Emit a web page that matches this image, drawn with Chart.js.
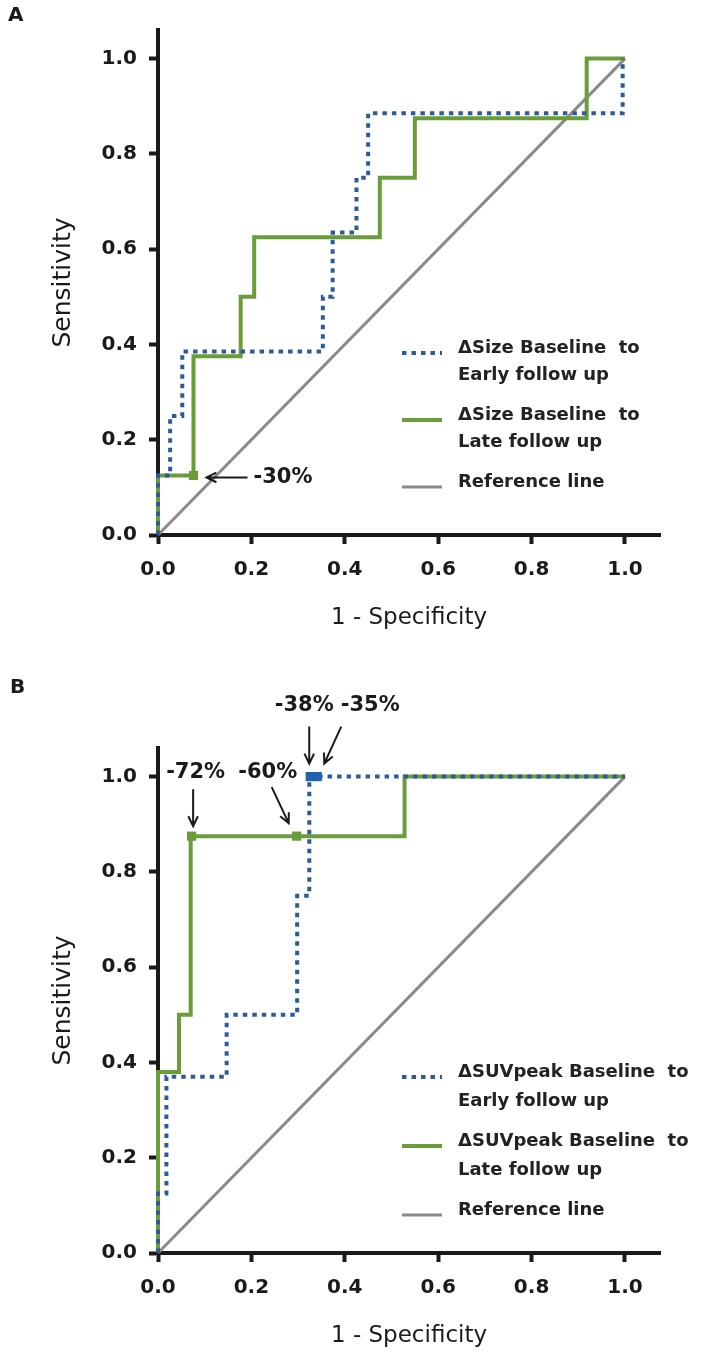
<!DOCTYPE html>
<html lang="en">
<head>
<meta charset="utf-8"/>
<title>ROC curves - size and SUVpeak</title>
<script src="https://cdn.jsdelivr.net/npm/chart.js"></script>
<style>
  body { margin: 0; background: #fff; width: 701px; height: 1353px; position: relative; overflow: hidden; font-family: 'DejaVu Sans', sans-serif; }
  .letter { position: absolute; font-weight: bold; font-size: 20px; color: #1a1a1a; z-index: 2; }
  canvas { position: absolute; left: 0; }
</style>
</head>
<body>
<div class="letter" style="left:8px;top:2px">A</div>
<canvas id="chartA" width="701" height="640" style="top:0"></canvas>
<div class="letter" style="left:10px;top:674px">B</div>
<canvas id="chartB" width="701" height="713" style="top:640px"></canvas>

<script>
// ---- data ----
// Panel A: change in size
const sizeEarlyX = [0, 0, 0.026, 0.026, 0.052, 0.052, 0.353, 0.353, 0.374, 0.374, 0.425, 0.425, 0.45, 0.45, 0.995, 0.995];
const sizeEarlyY = [0, 0.125, 0.125, 0.25, 0.25, 0.385, 0.385, 0.5, 0.5, 0.635, 0.635, 0.75, 0.75, 0.885, 0.885, 1.0];
const sizeLateX = [0, 0, 0.076, 0.076, 0.177, 0.177, 0.206, 0.206, 0.475, 0.475, 0.55, 0.55, 0.918, 0.918, 1.0];
const sizeLateY = [0, 0.125, 0.125, 0.375, 0.375, 0.5, 0.5, 0.625, 0.625, 0.75, 0.75, 0.875, 0.875, 1.0, 1.0];
const sizeCutX = [0.076];
const sizeCutY = [0.125];
const sizeCutText = ['-30%'];

// Panel B: change in SUVpeak
const suvEarlyX = [0, 0, 0.018, 0.018, 0.147, 0.147, 0.298, 0.298, 0.324, 0.324, 1.0];
const suvEarlyY = [0, 0.125, 0.125, 0.37, 0.37, 0.5, 0.5, 0.75, 0.75, 1.0, 1.0];
const suvLateX = [0, 0, 0.045, 0.045, 0.07, 0.07, 0.528, 0.528, 1.0];
const suvLateY = [0, 0.38, 0.38, 0.5, 0.5, 0.875, 0.875, 1.0, 1.0];
const suvLateCutX = [0.072, 0.297];
const suvLateCutY = [0.875, 0.875];
const suvLateCutText = ['-72%', '-60%'];
const suvEarlyCutX = [0.326, 0.341];
const suvEarlyCutY = [1.0, 1.0];
const suvEarlyCutText = ['-38%', '-35%'];

const refX = [0, 1];
const refY = [0, 1];

const axisTicks = [0, 0.2, 0.4, 0.6, 0.8, 1.0];

const legendA = [['\u0394Size Baseline  to', 'Early follow up'], ['\u0394Size Baseline  to', 'Late follow up'], ['Reference line']];
const legendB = [['\u0394SUVpeak Baseline  to', 'Early follow up'], ['\u0394SUVpeak Baseline  to', 'Late follow up'], ['Reference line']];

// ---- styling ----
const GREEN = '#6a9c3a';
const BLUE = '#2d5b98';
const MARK_BLUE = '#1f62ad';
const GREY = '#8a8a8a';
const INK = '#1a1a1a';
const FONT = "'DejaVu Sans', sans-serif";

function pts(xs, ys) { return xs.map((x, i) => ({x: x, y: ys[i]})); }

function drawArrow(ctx, x1, y1, x2, y2) {
  const ang = Math.atan2(y2 - y1, x2 - x1);
  const head = 11, spread = 0.45;
  ctx.beginPath();
  ctx.moveTo(x1, y1);
  ctx.lineTo(x2, y2);
  ctx.moveTo(x2 - head * Math.cos(ang - spread), y2 - head * Math.sin(ang - spread));
  ctx.lineTo(x2, y2);
  ctx.lineTo(x2 - head * Math.cos(ang + spread), y2 - head * Math.sin(ang + spread));
  ctx.stroke();
}

const overlay = {
  id: 'rocOverlay',
  afterDraw(chart, args, opts) {
    const ctx = chart.ctx;
    const sx = chart.scales.x, sy = chart.scales.y;
    ctx.save();
    // cut-off annotations with arrows
    ctx.strokeStyle = INK;
    ctx.fillStyle = INK;
    ctx.lineWidth = 2;
    ctx.setLineDash([]);
    (opts.notes || []).forEach(n => {
      const px = sx.getPixelForValue(n.x), py = sy.getPixelForValue(n.y);
      drawArrow(ctx, px + n.from[0], py + n.from[1], px + n.to[0], py + n.to[1]);
      ctx.font = 'bold 21px ' + FONT;
      ctx.textAlign = n.align;
      ctx.textBaseline = 'middle';
      ctx.fillText(n.text, px + n.label[0], py + n.label[1]);
    });
    // legend
    const lg = opts.legend;
    let y = lg.top;
    lg.items.forEach((lines, i) => {
      const ds = chart.data.datasets[lg.datasets[i]];
      ctx.strokeStyle = ds.borderColor;
      ctx.lineWidth = ds.borderWidth;
      ctx.setLineDash(ds.borderDash || []);
      ctx.beginPath();
      ctx.moveTo(lg.x, y + 5);
      ctx.lineTo(lg.x + lg.sample, y + 5);
      ctx.stroke();
      ctx.setLineDash([]);
      ctx.fillStyle = '#222';
      ctx.font = 'bold 18px ' + FONT;
      ctx.textAlign = 'left';
      ctx.textBaseline = 'middle';
      lines.forEach((t, k) => ctx.fillText(t, lg.textX, y + k * lg.lineGap));
      y += (lines.length - 1) * lg.lineGap + lg.itemGap;
    });
    ctx.restore();
  }
};

function makeNotes(xs, ys, texts, geo) {
  return xs.map((x, i) => Object.assign({x: x, y: ys[i], text: texts[i]}, geo[i]));
}

function buildChart(id, series, frame, notes, legend) {
  const tickFont = {family: FONT, size: 20, weight: 'bold'};
  return new Chart(document.getElementById(id), {
    type: 'scatter',
    data: {
      datasets: [
        { label: 'early cut-off', data: series.earlyCut, showLine: false, pointStyle: 'rect',
          pointRadius: 6.5, backgroundColor: MARK_BLUE, borderColor: MARK_BLUE, borderWidth: 0 },
        { label: 'late cut-off', data: series.lateCut, showLine: false, pointStyle: 'rect',
          pointRadius: 6.5, backgroundColor: GREEN, borderColor: GREEN, borderWidth: 0 },
        { label: 'early', data: series.early, showLine: true, pointRadius: 0, borderColor: BLUE,
          borderWidth: 4, borderDash: [4.5, 5], borderCapStyle: 'butt', fill: false, clip: 6 },
        { label: 'late', data: series.late, showLine: true, pointRadius: 0, borderColor: GREEN,
          borderWidth: 4, fill: false, clip: 6 },
        { label: 'reference', data: series.ref, showLine: true, pointRadius: 0, borderColor: GREY,
          borderWidth: 3, fill: false, clip: 6 }
      ]
    },
    options: {
      responsive: false,
      animation: false,
      devicePixelRatio: 1,
      events: [],
      layout: { padding: { left: 0, right: 41, top: frame.top, bottom: 0 } },
      plugins: {
        legend: { display: false },
        tooltip: { enabled: false },
        rocOverlay: { notes: notes, legend: legend }
      },
      scales: {
        x: {
          type: 'linear', min: 0, max: 1.075,
          afterBuildTicks: s => { s.ticks = axisTicks.map(v => ({value: v})); },
          afterFit: s => { s.height = frame.xHeight; },
          ticks: { padding: 14, color: INK, font: tickFont, maxRotation: 0, autoSkip: false,
                   callback: v => v.toFixed(1) },
          grid: { drawOnChartArea: false, tickLength: 9, tickWidth: 4, tickColor: INK },
          border: { display: true, width: 4, color: INK },
          title: { display: true, text: '1 - Specificity', color: INK,
                   font: { family: FONT, size: 23 }, padding: { top: 0, bottom: frame.titlePad } }
        },
        y: {
          type: 'linear', min: 0, max: 1.06,
          afterBuildTicks: s => { s.ticks = axisTicks.map(v => ({value: v})); },
          afterFit: s => { s.width = 158; },
          ticks: { padding: 12, color: INK, font: tickFont, callback: v => v.toFixed(1) },
          grid: { drawOnChartArea: false, tickLength: 9, tickWidth: 4, tickColor: INK },
          border: { display: true, width: 4, color: INK },
          title: { display: true, text: 'Sensitivity', color: INK,
                   font: { family: FONT, size: 25 }, padding: { top: 48, bottom: 0 } }
        }
      }
    },
    plugins: [overlay]
  });
}

buildChart('chartA', {
    early: pts(sizeEarlyX, sizeEarlyY),
    late: pts(sizeLateX, sizeLateY),
    ref: pts(refX, refY),
    earlyCut: [],
    lateCut: pts(sizeCutX, sizeCutY)
  },
  { top: 30, xHeight: 105, titlePad: 8 },
  makeNotes(sizeCutX, sizeCutY, sizeCutText, [
    { from: [54, 2], to: [13, 2], label: [60, 2], align: 'left' }
  ]),
  { x: 402, sample: 40, textX: 458, top: 348, lineGap: 27, itemGap: 40, items: legendA, datasets: [2, 3, 4] }
);

buildChart('chartB', {
    early: pts(suvEarlyX, suvEarlyY),
    late: pts(suvLateX, suvLateY),
    ref: pts(refX, refY),
    earlyCut: pts(suvEarlyCutX, suvEarlyCutY),
    lateCut: pts(suvLateCutX, suvLateCutY)
  },
  { top: 108, xHeight: 100, titlePad: 3 },
  makeNotes(suvLateCutX, suvLateCutY, suvLateCutText, [
    { from: [1.5, -47], to: [1.5, -10], label: [4, -64], align: 'center' },
    { from: [-25, -49], to: [-8, -13], label: [-29, -64], align: 'center' }
  ]).concat(makeNotes(suvEarlyCutX, suvEarlyCutY, suvEarlyCutText, [
    { from: [-1, -50], to: [-1, -13], label: [-6, -71], align: 'center' },
    { from: [24, -50], to: [7, -13], label: [53, -71], align: 'center' }
  ])),
  { x: 402, sample: 40, textX: 458, top: 432, lineGap: 29, itemGap: 40, items: legendB, datasets: [2, 3, 4] }
);
</script>
</body>
</html>
